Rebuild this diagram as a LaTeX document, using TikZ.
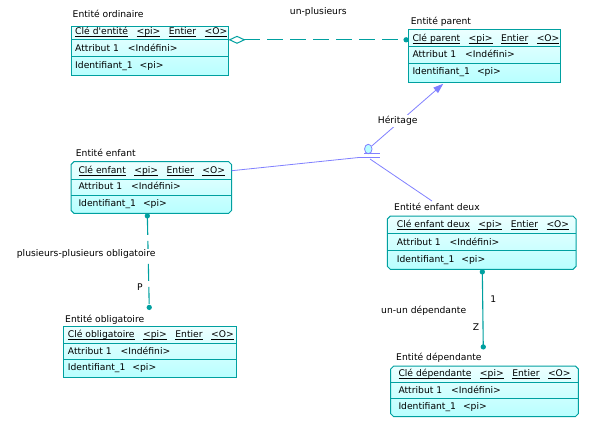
\documentclass[tikz,border=0pt]{standalone}
\usepackage{fontspec}
\newfontfamily\dv{DejaVu Sans}
\usetikzlibrary{arrows.meta,calc,shapes.geometric}
\definecolor{tealc}{RGB}{0,160,160}
\definecolor{inhc}{RGB}{128,128,255}
\definecolor{ctop}{RGB}{236,255,255}
\definecolor{cbot}{RGB}{184,255,255}
\newcommand\ulw[1]{\setbox0\hbox{#1}\rlap{\rule[-2.3pt]{\wd0}{0.7pt}}\box0}
\newcommand\gp{\hspace{8.5pt}}
% name, x1, y1, x2, y2, d1, d2, chamfer
\newcommand\entbox[8]{%
  \path[draw=tealc,line width=1pt,top color=ctop,bottom color=cbot]
    ({#2+#8},#3) -- ({#4-#8},#3) -- (#4,{#3+#8}) -- (#4,{#5-#8}) -- ({#4-#8},#5)
    -- ({#2+#8},#5) -- (#2,{#5-#8}) -- (#2,{#3+#8}) -- cycle;
  \draw[tealc,line width=0.9pt] (#2,#6) -- (#4,#6) (#2,#7) -- (#4,#7);
  \node[inner sep=0pt,outer sep=0pt,minimum width={#4-#2},minimum height={#5-#3},anchor=north west] (#1) at (#2,#3) {};
}
\begin{document}
\begin{tikzpicture}[x=1pt,y=-1pt,
  font=\dv\fontsize{9.2}{11}\selectfont,
  txt/.style={inner sep=0pt,anchor=base west},
  lbl/.style={inner sep=1pt,fill=white},
  rel/.style={draw=tealc,line width=1.1pt},
  dashrel/.style={rel,dash pattern=on 16pt off 7pt},
  inhline/.style={draw=inhc,line width=0.8pt}]
\useasboundingbox (0,0) rectangle (592,434);
\fill[white] (0,0) rectangle (592,434);

% ---------- entities ----------
\entbox{ord}{71}{26}{228.5}{75.5}{39.5}{56.3}{0}
\node[txt] (ordt) at (72.5,17.7) {Entité ordinaire};
\node[txt] (ordk) at (75,34.3) {\ulw{Clé d'entité}\gp\ulw{<pi>}\gp\ulw{Entier}\gp\ulw{<O>}};
\node[txt] (orda) at (75,51.7) {Attribut 1\hspace{9pt}<Indéfini>};
\node[txt] (ordi) at (75,68.3) {Identifiant\_1\hspace{7pt}<pi>};

\entbox{par}{408.7}{29.3}{560.7}{82.3}{46.7}{63.3}{0}
\node[txt] (part) at (410.7,24) {Entité parent};
\node[txt] (park) at (412.3,41) {\ulw{Clé parent}\gp\ulw{<pi>}\gp\ulw{Entier}\gp\ulw{<O>}};
\node[txt] (para) at (412.3,57.7) {Attribut 1\hspace{9pt}<Indéfini>};
\node[txt] (pari) at (412.3,74) {Identifiant\_1\hspace{7pt}<pi>};

\entbox{enf}{71}{161.7}{231.7}{213.3}{179}{195.7}{3}
\node[txt] (enft) at (75.7,156.7) {Entité enfant};
\node[txt] (enfk) at (78.3,173) {\ulw{Clé enfant}\gp\ulw{<pi>}\gp\ulw{Entier}\gp\ulw{<O>}};
\node[txt] (enfa) at (78.3,189.3) {Attribut 1\hspace{9pt}<Indéfini>};
\node[txt] (enfi) at (78.3,206.7) {Identifiant\_1\hspace{7pt}<pi>};

\entbox{deux}{387.3}{216}{576}{269.3}{233.3}{250.7}{3}
\node[txt] (deuxt) at (394,210.7) {Entité enfant deux};
\node[txt] (deuxk) at (396.7,227.7) {\ulw{Clé enfant deux}\gp\ulw{<pi>}\gp\ulw{Entier}\gp\ulw{<O>}};
\node[txt] (deuxa) at (396.7,245) {Attribut 1\hspace{9pt}<Indéfini>};
\node[txt] (deuxi) at (396.7,262.3) {Identifiant\_1\hspace{7pt}<pi>};

\entbox{obl}{63.3}{326.7}{236.7}{377.7}{343.3}{359.3}{0}
\node[txt] (oblt) at (65,322.3) {Entité obligatoire};
\node[txt] (oblk) at (67.7,337.7) {\ulw{Clé obligatoire}\gp\ulw{<pi>}\gp\ulw{Entier}\gp\ulw{<O>}};
\node[txt] (obla) at (67.7,354) {Attribut 1\hspace{9pt}<Indéfini>};
\node[txt] (obli) at (67.7,370.3) {Identifiant\_1\hspace{7pt}<pi>};

\entbox{dep}{390.7}{366}{578.3}{416.7}{382.7}{398.3}{3}
\node[txt] (dept) at (396,360) {Entité dépendante};
\node[txt] (depk) at (398.3,376.7) {\ulw{Clé dépendante}\gp\ulw{<pi>}\gp\ulw{Entier}\gp\ulw{<O>}};
\node[txt] (depa) at (398.3,393.3) {Attribut 1\hspace{9pt}<Indéfini>};
\node[txt] (depi) at (398.3,409.3) {Identifiant\_1\hspace{7pt}<pi>};

% ---------- anchor coordinates ----------
\coordinate (ordK) at ($(ord.north east)+(0,13.8)$);
\coordinate (parK) at ($(par.north west)+(0,10.5)$);
\coordinate (enfB) at ($(enf.south west)+(76.3,0)$);
\coordinate (oblT) at (149.3,310);
\coordinate (deuxB) at ($(deux.south west)+(95,0)$);
\coordinate (depT) at (483.3,349.5);
\coordinate (enfR) at ($(enf.north east)+(0,9)$);
\coordinate (parB) at ($(par.south west)+(34.5,1.5)$);
\coordinate (deuxT) at (432,201);

% ---------- relationships ----------
\draw[dashrel,{Diamond[open,length=17pt,width=8pt,line width=1pt]}-{Circle[length=5.2pt]}] (ordK) -- (parK);
\node (unpl) at (318.3,11.7) {un-plusieurs};

\draw[rel,dash pattern=on 17pt off 6pt,{Circle[length=5.2pt]}-{Circle[length=5.2pt]}] (enfB) -- (oblT);
\node[lbl] (ppo) at (86.2,254.3) {plusieurs-plusieurs obligatoire};
\node (P) at (140,286.7) {P};

\draw[rel,{Circle[length=5.2pt]}-{Circle[length=5.2pt]}] (deuxB) -- (depT);
\node (one) at (493.3,299.3) {1};
\node (Z) at (476,326.7) {Z};
\node (unun) at (423.7,311) {un-un dépendante};

% ---------- inheritance ----------
\node[ellipse,draw=inhc,fill=cbot,line width=0.8pt,minimum width=7.5pt,minimum height=9.5pt,inner sep=0pt] (inhe) at (368.3,149) {};
\node[inner sep=0pt,minimum width=21pt,minimum height=4pt] (inhb) at (369.5,155.3) {};
\draw[inhline] (364,153.3) -- (380,153.3);
\draw[inhline] (359,157.3) -- (380,157.3);
\draw[inhline] (enfR) -- (inhb.south west);
\draw[inhline,-{Triangle[length=10pt,width=7pt]}] (inhe) -- (parB);
\draw[inhline] ($(inhb.south)+(0.5,1.5)$) -- (deuxT);
\node[lbl] (her) at (397.7,121) {Héritage};
\end{tikzpicture}
\end{document}
